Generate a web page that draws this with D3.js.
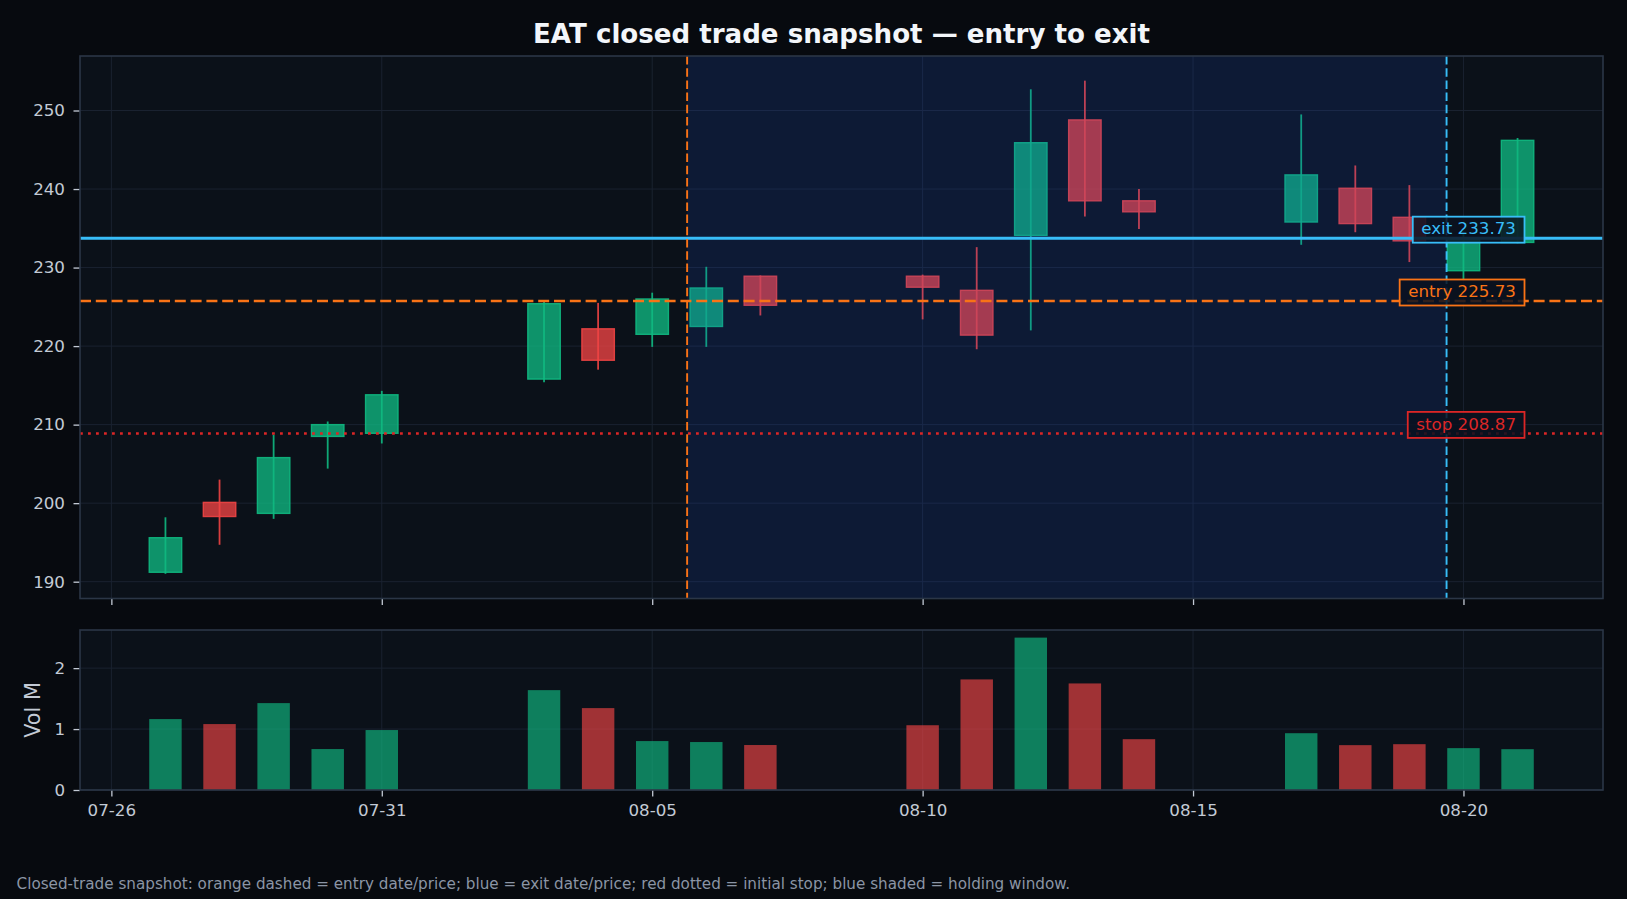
<!DOCTYPE html>
<html>
<head>
<meta charset="utf-8">
<script src="https://cdn.jsdelivr.net/npm/d3@7"></script>
<style>
  body { margin: 0; background: #070a0f; }
  svg { display: block; font-family: "DejaVu Sans", sans-serif; }
</style>
</head>
<body>
<div id="chart"></div>
<script>
// EAT daily candles
var dates = ["2026-07-27", "2026-07-28", "2026-07-29", "2026-07-30", "2026-07-31",
  "2026-08-03", "2026-08-04", "2026-08-05", "2026-08-06", "2026-08-07",
  "2026-08-10", "2026-08-11", "2026-08-12", "2026-08-13", "2026-08-14",
  "2026-08-17", "2026-08-18", "2026-08-19", "2026-08-20", "2026-08-21"];
var opens = [191.2, 200.1, 198.7, 208.5, 208.9, 215.8, 222.2, 221.5, 222.5, 228.9,
  228.9, 227.1, 234.1, 248.8, 238.5, 235.8, 240.1, 236.4, 229.6, 233.2];
var highs = [198.2, 203.0, 208.7, 210.4, 214.3, 225.6, 225.5, 226.8, 230.1, 229.0,
  229.1, 232.6, 252.7, 253.8, 240.0, 249.5, 243.0, 240.5, 234.4, 246.5];
var lows = [191.0, 194.7, 198.0, 204.4, 207.6, 215.4, 217.0, 219.9, 219.9, 223.9,
  223.4, 219.6, 222.0, 236.5, 234.9, 232.9, 234.5, 230.7, 228.4, 233.1];
var closes = [195.6, 198.3, 205.8, 210.0, 213.8, 225.4, 218.2, 226.0, 227.4, 225.2,
  227.5, 221.4, 245.9, 238.5, 237.1, 241.8, 235.6, 233.4, 233.6, 246.2];
var volumes = [1.164, 1.082, 1.426, 0.672, 0.984, 1.639, 1.344, 0.803, 0.787, 0.738,
  1.063, 1.815, 2.501, 1.749, 0.834, 0.932, 0.736, 0.752, 0.687, 0.670];

// trade levels
var entryTime = "2026-08-05 15:30";
var exitTime = "2026-08-19 16:30";
var entryPrice = 225.73;
var exitPrice = 233.73;
var stopPrice = 208.87;

// tick labels
var dateTicks = ["2026-07-26", "2026-07-31", "2026-08-05", "2026-08-10", "2026-08-15", "2026-08-20"];
var priceTicks = [190, 200, 210, 220, 230, 240, 250];
var volTicks = [0, 1, 2];

var titleText = "EAT closed trade snapshot \u2014 entry to exit";
var footText = "Closed-trade snapshot: orange dashed = entry date/price; blue = exit date/price; red dotted = initial stop; blue shaded = holding window.";

// set svg parameters
var svgWidth = 1627;
var svgHeight = 899;

var price = { left: 80, top: 56, width: 1523, height: 542.5 };
var vol = { left: 80, top: 630, width: 1523, height: 160 };

var UP = "#10b981";
var DOWN = "#ef4444";
var ENTRY = "#f97316";
var EXIT = "#38bdf8";
var STOP = "#dc2626";
var TICK = "#c3cad5";
var GRID = "#1a2230";
var SPINE = "#2b3646";

var svg = d3.select("#chart").append("svg")
  .attr("width", svgWidth)
  .attr("height", svgHeight);

svg.append("rect").attr("width", svgWidth).attr("height", svgHeight).attr("fill", "#070a0f");

var parseDay = d3.utcParse("%Y-%m-%d");
var parseTime = d3.utcParse("%Y-%m-%d %H:%M");
var DAY = 864e5;

var candles = dates.map(function (d, i) {
  return { date: parseDay(d), open: opens[i], high: highs[i], low: lows[i], close: closes[i], vol: volumes[i] };
});

// Step 1: scales (matplotlib-like 5% margins)
var halfW = 0.3 * DAY;
var first = +candles[0].date, last = +candles[candles.length - 1].date;
var xPad = 0.05 * (last - first + 2 * halfW);
var xScale = d3.scaleUtc()
  .domain([new Date(first - halfW - xPad), new Date(last + halfW + xPad)])
  .range([0, price.width]);

var lo = d3.min(candles, function (d) { return d.low; });
var hi = d3.max(candles, function (d) { return d.high; });
var yPad = 0.05 * (hi - lo);
var yScale = d3.scaleLinear().domain([lo - yPad, hi + yPad]).range([price.height, 0]);

var vScale = d3.scaleLinear()
  .domain([0, d3.max(candles, function (d) { return d.vol; }) * 1.05])
  .range([vol.height, 0]);

var barW = xScale(new Date(first + 2 * halfW)) - xScale(new Date(first));
var tickDates = dateTicks.map(parseDay);

// Step 2: panels
var pg = svg.append("g").attr("transform", "translate(" + price.left + "," + price.top + ")");
var vg = svg.append("g").attr("transform", "translate(" + vol.left + "," + vol.top + ")");

pg.append("rect").attr("width", price.width).attr("height", price.height).attr("fill", "#0b1119");
vg.append("rect").attr("width", vol.width).attr("height", vol.height).attr("fill", "#0b1119");

var xEntry = xScale(parseTime(entryTime));
var xExit = xScale(parseTime(exitTime));

// grids
function grid(g, box, ys, scale) {
  g.selectAll(".gx").data(tickDates).enter().append("line")
    .attr("x1", function (d) { return xScale(d); }).attr("x2", function (d) { return xScale(d); })
    .attr("y1", 0).attr("y2", box.height)
    .attr("stroke", GRID).attr("stroke-width", 1);
  g.selectAll(".gy").data(ys).enter().append("line")
    .attr("x1", 0).attr("x2", box.width)
    .attr("y1", function (d) { return scale(d); }).attr("y2", function (d) { return scale(d); })
    .attr("stroke", GRID).attr("stroke-width", 1);
}
grid(pg, price, priceTicks, yScale);
grid(vg, vol, volTicks, vScale);

// Step 3: candles
var cg = pg.selectAll(".candle").data(candles).enter().append("g");
cg.append("rect")
  .attr("x", function (d) { return xScale(d.date) - barW / 2; })
  .attr("width", barW)
  .attr("y", function (d) { return yScale(Math.max(d.open, d.close)); })
  .attr("height", function (d) { return Math.max(1, Math.abs(yScale(d.open) - yScale(d.close))); })
  .attr("fill", function (d) { return d.close >= d.open ? UP : DOWN; })
  .attr("fill-opacity", 0.78)
  .attr("stroke", function (d) { return d.close >= d.open ? UP : DOWN; })
  .attr("stroke-opacity", 0.9)
  .attr("stroke-width", 1.4);
cg.append("line")
  .attr("x1", function (d) { return xScale(d.date); }).attr("x2", function (d) { return xScale(d.date); })
  .attr("y1", function (d) { return yScale(d.high); }).attr("y2", function (d) { return yScale(d.low); })
  .attr("stroke", function (d) { return d.close >= d.open ? UP : DOWN; })
  .attr("stroke-opacity", 0.9)
  .attr("stroke-width", 1.8);

// holding window, laid over the candles
pg.append("rect")
  .attr("x", xEntry).attr("width", xExit - xEntry)
  .attr("y", 0).attr("height", price.height)
  .attr("fill", "#1d4ed8").attr("fill-opacity", 0.15);

// volume bars
vg.selectAll(".bar").data(candles).enter().append("rect")
  .attr("x", function (d) { return xScale(d.date) - barW / 2; })
  .attr("width", barW)
  .attr("y", function (d) { return vScale(d.vol); })
  .attr("height", function (d) { return vol.height - vScale(d.vol); })
  .attr("fill", function (d) { return d.close >= d.open ? UP : DOWN; })
  .attr("fill-opacity", 0.66);

// Step 4: trade lines
function hline(v, color, width, dash) {
  pg.append("line")
    .attr("x1", 0).attr("x2", price.width)
    .attr("y1", yScale(v)).attr("y2", yScale(v))
    .attr("stroke", color).attr("stroke-width", width)
    .attr("stroke-dasharray", dash);
}
hline(stopPrice, STOP, 2.6, "2.8,5.2");
hline(entryPrice, ENTRY, 2.5, "11,4.8");
hline(exitPrice, EXIT, 2.8, null);

pg.append("line").attr("x1", xEntry).attr("x2", xEntry).attr("y1", 0).attr("y2", price.height)
  .attr("stroke", ENTRY).attr("stroke-width", 1.9).attr("stroke-dasharray", "8.5,3.7");
pg.append("line").attr("x1", xExit).attr("x2", xExit).attr("y1", 0).attr("y2", price.height)
  .attr("stroke", EXIT).attr("stroke-width", 1.9).attr("stroke-dasharray", "8.5,3.7");

// price tags at the right
var tagRight = price.width - 78.5;
function tag(label, v, color) {
  var y = yScale(v);
  var g = pg.append("g");
  var box = g.append("rect");
  var t = g.append("text")
    .attr("x", tagRight - 8.5).attr("y", y - 4)
    .attr("text-anchor", "end")
    .attr("font-size", "16.7px")
    .attr("fill", color)
    .text(label + " " + v.toFixed(2));
  var w = t.node().getComputedTextLength();
  box.attr("x", tagRight - w - 17).attr("y", y - 21.6)
    .attr("width", w + 17).attr("height", 26)
    .attr("fill", "#0b1220").attr("fill-opacity", 0.85)
    .attr("stroke", color).attr("stroke-width", 1.8);
}
tag("exit", exitPrice, EXIT);
tag("entry", entryPrice, ENTRY);
tag("stop", stopPrice, STOP);

// Step 5: axes
function styleAxis(g) {
  g.select(".domain").remove();
  g.selectAll(".tick line").attr("stroke", TICK).attr("stroke-width", 1.3);
  g.selectAll(".tick text").attr("fill", TICK).attr("font-size", "16.7px")
    .attr("font-family", "DejaVu Sans");
}

pg.append("g").attr("transform", "translate(0," + price.height + ")")
  .call(d3.axisBottom(xScale).tickValues(tickDates).tickSize(6.5).tickFormat(""))
  .call(styleAxis);
pg.append("g")
  .call(d3.axisLeft(yScale).tickValues(priceTicks).tickSize(6.5).tickPadding(8.5).tickFormat(d3.format("d")))
  .call(styleAxis);

vg.append("g").attr("transform", "translate(0," + vol.height + ")")
  .call(d3.axisBottom(xScale).tickValues(tickDates).tickSize(6.5).tickPadding(8).tickFormat(d3.utcFormat("%m-%d")))
  .call(styleAxis);
vg.append("g")
  .call(d3.axisLeft(vScale).tickValues(volTicks).tickSize(6.5).tickPadding(8.5).tickFormat(d3.format("d")))
  .call(styleAxis);

// spines
[pg, vg].forEach(function (g, i) {
  var b = i === 0 ? price : vol;
  g.append("rect").attr("width", b.width).attr("height", b.height)
    .attr("fill", "none").attr("stroke", SPINE).attr("stroke-width", 1.6);
});

// labels
svg.append("text")
  .attr("transform", "translate(40," + (vol.top + vol.height / 2) + ") rotate(-90)")
  .attr("text-anchor", "middle")
  .attr("font-size", "20.8px")
  .attr("fill", TICK)
  .text("Vol M");

svg.append("text")
  .attr("x", price.left + price.width / 2).attr("y", 43.3)
  .attr("text-anchor", "middle")
  .attr("font-size", "26.1px").attr("font-weight", "bold")
  .attr("fill", "#f3f6fa")
  .text(titleText);

svg.append("text")
  .attr("x", 16.6).attr("y", 889)
  .attr("font-size", "15.2px")
  .attr("fill", "#8b95a5")
  .text(footText);
</script>
</body>
</html>
